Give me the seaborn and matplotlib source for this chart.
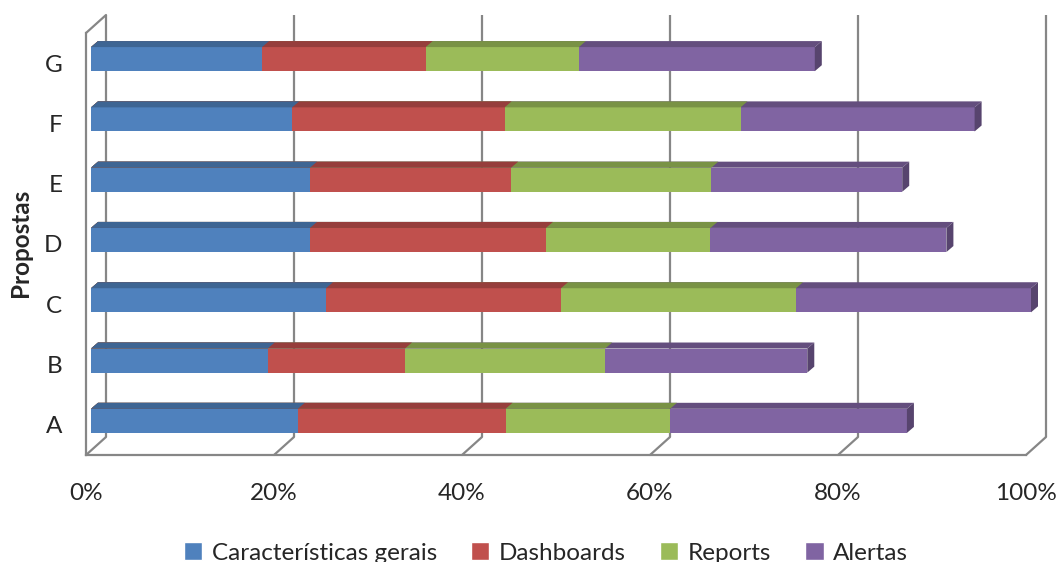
import numpy as np
import pandas as pd
import seaborn as sns
import matplotlib.pyplot as plt
from matplotlib.patches import Polygon, Patch
from matplotlib.colors import to_rgb

# values, in percent
propostas = ["A", "B", "C", "D", "E", "F", "G"]
caracteristicas = [22.0, 18.8, 25.0, 23.3, 23.3, 21.4, 18.2]
dashboards = [22.1, 14.6, 25.0, 25.1, 21.4, 22.6, 17.4]
reports = [17.5, 21.3, 25.0, 17.5, 21.3, 25.1, 16.3]
alertas = [25.2, 21.5, 25.0, 25.1, 20.3, 24.9, 25.1]

series_names = ["Características gerais", "Dashboards", "Reports", "Alertas"]
colors = ["#4F81BD", "#C0504D", "#9BBB59", "#8064A2"]
xtick_labels = ["0%", "20%", "40%", "60%", "80%", "100%"]

df = pd.DataFrame({
    "Proposta": propostas,
    series_names[0]: caracteristicas,
    series_names[1]: dashboards,
    series_names[2]: reports,
    series_names[3]: alertas,
})
cum = df[series_names].cumsum(axis=1) / 100.0

sns.set_style("white")
plt.rcParams["font.family"] = ["Lato", "DejaVu Sans"]
FS = 17.5
GRAY = "#868686"

W, H = 1059, 562
fig = plt.figure(figsize=(W / 100, H / 100), dpi=100)
ax = fig.add_axes([86 / W, 1 - 455 / H, 940 / W, 422 / H])

# pixel scales of the front plane
sx = 940 / 1.0
sy = 422 / 7.0


def darker(c, f):
    r, g, b = to_rgb(c)
    return (r * f, g * f, b * f)


# stacked bars: longest cumulative first, shorter ones drawn over it
layers = []
for i in reversed(range(len(series_names))):
    n0 = len(ax.patches)
    sns.barplot(x=cum[series_names[i]].values, y=df["Proposta"], order=propostas[::-1],
                orient="h", color=colors[i], saturation=1, width=0.4, ax=ax)
    layers.append((i, ax.patches[n0:]))

ax.set_xlim(0, 1)
ax.set_ylim(6.5, -0.5)

# 3D look: shift front faces and add top / side faces
fx, fy = 5, 4      # bar front offset in px
dx, dy = 7, 6      # bar depth in px
for k, (i, patches) in enumerate(layers):
    z = 3 + k
    for p in patches:
        p.set_x(p.get_x() + fx / sx)
        p.set_y(p.get_y() - fy / sy)
        p.set_zorder(z)
        p.set_edgecolor("none")
        p.set_clip_on(False)
        x0, x1 = p.get_x(), p.get_x() + p.get_width()
        yt, yb = p.get_y(), p.get_y() + p.get_height()
        ddx, ddy = dx / sx, dy / sy
        top = Polygon([(x0, yt), (x1, yt), (x1 + ddx, yt - ddy), (x0 + ddx, yt - ddy)],
                      closed=True, facecolor=darker(colors[i], 0.78), edgecolor="none",
                      zorder=z, clip_on=False)
        ax.add_patch(top)
        if i == len(series_names) - 1:
            side = Polygon([(x1, yt), (x1, yb), (x1 + ddx, yb - ddy), (x1 + ddx, yt - ddy)],
                           closed=True, facecolor=darker(colors[i], 0.68), edgecolor="none",
                           zorder=z, clip_on=False)
            ax.add_patch(side)

# back wall gridlines and floor diagonals
bx, by = 20 / sx, 18 / sy
for xv in np.linspace(0, 1, 6):
    ax.plot([xv + bx, xv + bx], [6.5 - by, -0.5 - by], color=GRAY, lw=1.6,
            clip_on=False, zorder=1, solid_capstyle="butt")
    ax.plot([xv, xv + bx], [6.5, 6.5 - by], color=GRAY, lw=1.6, clip_on=False, zorder=1)
ax.plot([0, bx], [-0.5, -0.5 - by], color=GRAY, lw=1.6, clip_on=False, zorder=1)

for s in ["top", "right"]:
    ax.spines[s].set_visible(False)
for s in ["left", "bottom"]:
    ax.spines[s].set_color(GRAY)
    ax.spines[s].set_linewidth(1.6)

ax.set_xticks(np.linspace(0, 1, 6))
ax.set_xticklabels(xtick_labels)
ax.tick_params(axis="x", length=6, width=1.6, color=GRAY, pad=14, labelsize=FS, direction="out")
ax.tick_params(axis="y", which="major", length=0, pad=17, labelsize=FS)
ax.set_yticks(np.arange(-0.5, 7, 1), minor=True)
ax.tick_params(axis="y", which="minor", length=6, width=1.6, color=GRAY, direction="out")
ax.set_xlabel("")
ax.set_ylabel("")
fig.text(20 / W, 1 - 243 / H, "Propostas", rotation=90, ha="center", va="center",
         fontsize=FS, fontweight="bold")

handles = [Patch(facecolor=c, label=n) for c, n in zip(colors, series_names)]
fig.legend(handles=handles, loc="center", bbox_to_anchor=(546 / W, 1 - 553 / H), ncol=4,
           frameon=False, fontsize=FS, handlelength=0.75, handleheight=0.75,
           handletextpad=0.4, columnspacing=1.4)

fig.savefig("out.png", dpi=100)
